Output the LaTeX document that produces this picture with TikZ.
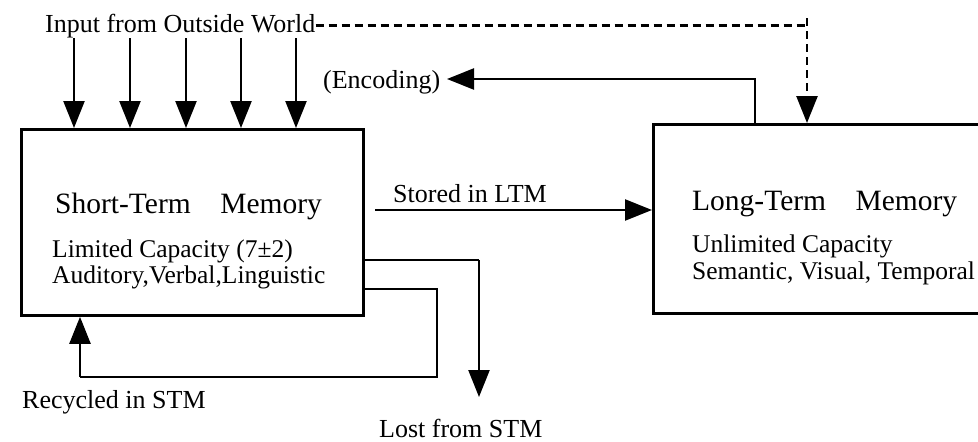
\documentclass[tikz,border=0pt]{standalone}
\usepackage{fontspec}
\setmainfont{Liberation Serif}
\usetikzlibrary{arrows.meta}
\begin{document}
\begin{tikzpicture}[x=1pt,y=-1pt,
  lbl/.style={anchor=base west,inner sep=0pt,font=\fontsize{26}{28}\selectfont},
  head/.style={anchor=base west,inner sep=0pt,font=\fontsize{29.5}{31}\selectfont},
  sub/.style={anchor=base west,inner sep=0pt,font=\fontsize{25.5}{27}\selectfont},
  membox/.style={draw,anchor=north west,inner sep=0pt},
  arr/.style={line width=2.4pt,-{Triangle[length=27pt,width=21pt]}},
  ln/.style={line width=2.6pt}]
\useasboundingbox (0,0) rectangle (978,442);
\clip (0,0) rectangle (978,442);
% boxes
\node[membox,line width=2.8pt,minimum width=342pt,minimum height=186pt] (stm) at (20,128) {};
\node[membox,line width=3.2pt,minimum width=350pt,minimum height=189pt] (ltm) at (652,123) {};
% texts
\node[lbl] (inp) at (45,32) {Input from Outside World};
\node[lbl] (enc) at (323,88) {(Encoding)};
\node[head] (stmh) at (55,213) {Short-Term\quad Memory};
\node[sub] (stm1) at (52,257) {Limited Capacity (7±2)};
\node[sub] (stm2) at (52,283) {Auditory,Verbal,Linguistic};
\node[lbl] (stored) at (393,202) {Stored in LTM};
\node[head] (ltmh) at (692,210) {Long-Term\quad Memory};
\node[sub] (ltm1) at (692,252) {Unlimited Capacity};
\node[sub] (ltm2) at (692,279) {Semantic, Visual, Temporal};
\node[lbl] (rec) at (22,408) {Recycled in STM};
\node[lbl] (lost) at (379,437) {Lost from STM};
% input arrows
\foreach \x [count=\i] in {74,130,186,241,296}{
  \coordinate (in\i) at (\x,38);
  \draw[arr] (in\i) -- (in\i |- stm.north);
}
% dashed link to LTM
\coordinate (dc) at (807,18);
\draw[line width=2.6pt,dash pattern=on 8pt off 5pt] (inp.east) -- (inp.east -| dc) -- (dc);
\draw[line width=2.6pt,dash pattern=on 8pt off 5pt,-{Triangle[length=27pt,width=21pt]}] (dc) -- (dc |- ltm.north);
% encoding
\coordinate (e0) at (755,123);
\coordinate (e1) at (755,79);
\coordinate (etip) at (447,79);
\draw[arr] (e0) -- (e1) -- (etip);
% stored
\coordinate (s0) at (375,210);
\draw[arr] (s0) -- (s0 -| ltm.west);
% lost
\coordinate (l0) at (362,260);
\coordinate (l1) at (479,260);
\coordinate (l2) at (479,397);
\draw[ln] (l0) -- (l1);
\draw[arr] (l1) -- (l2);
% recycled
\coordinate (r0) at (362,289);
\coordinate (r1) at (437,289);
\coordinate (r2) at (437,377);
\coordinate (r3) at (80,377);
\draw[ln] (r0) -- (r1) -- (r2) -- (r3);
\draw[arr] (r3) -- (r3 |- stm.south);
\end{tikzpicture}
\end{document}
